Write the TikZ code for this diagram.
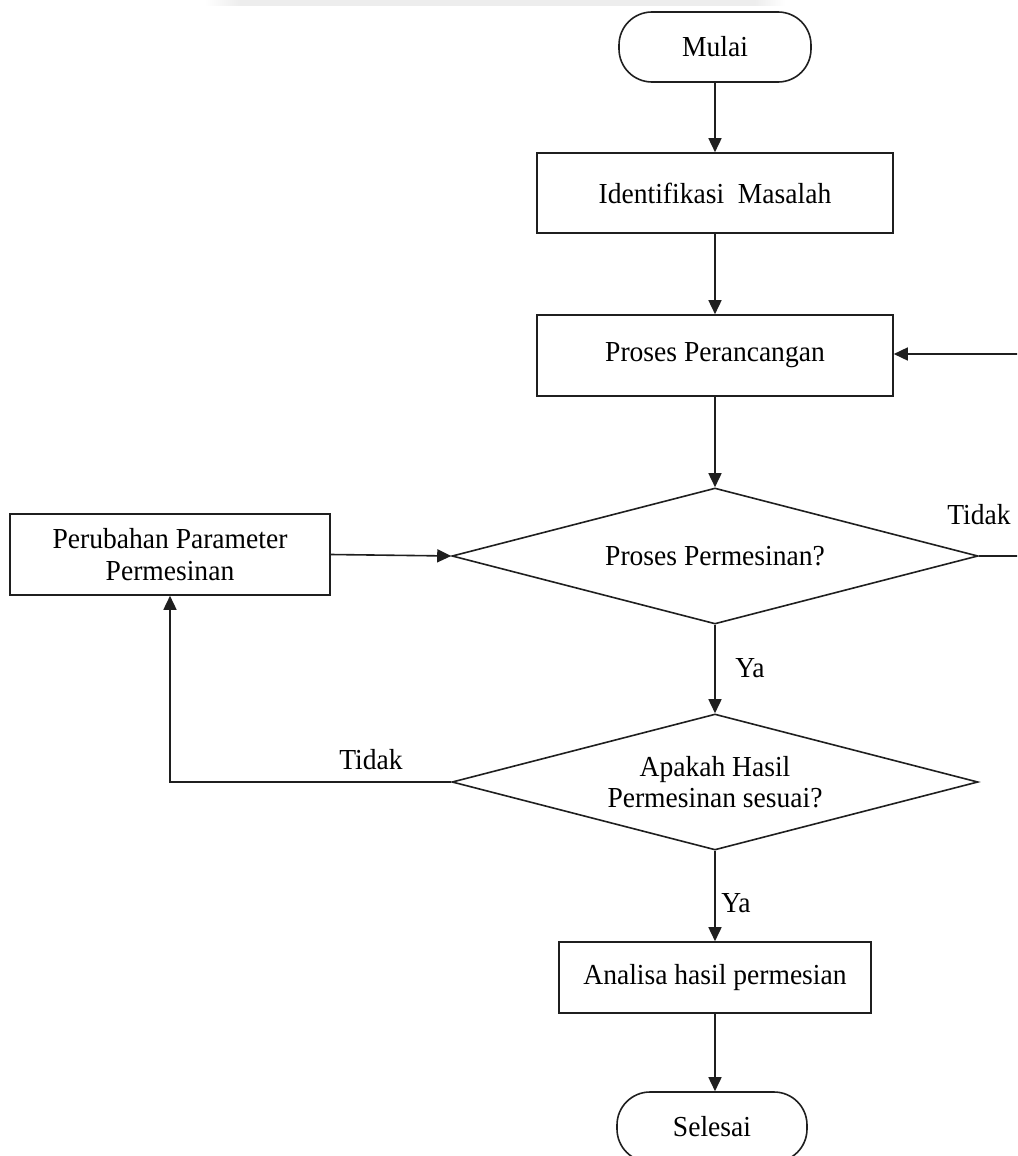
\documentclass[tikz,border=0pt]{standalone}
\usepackage{fontspec}
\setmainfont{Liberation Serif}[FakeStretch=0.95]
\usetikzlibrary{shapes.geometric,arrows.meta}
\begin{document}
\begin{tikzpicture}[x=1pt,y=-1pt,
  every node/.style={font=\fontsize{29}{33}\selectfont, text=black},
  line/.style={draw=black!88, line width=1.6pt},
  arr/.style={line, -{Triangle[length=14pt,width=13pt]}},
  term/.style={line, rectangle, rounded corners=33pt, minimum width=192pt, minimum height=70pt, inner sep=0pt},
  proc/.style={line, rectangle, inner sep=0pt, align=center},
  dec/.style={line, diamond, aspect=3.87, minimum width=526pt, minimum height=136pt, inner sep=0pt, align=center},
  lab/.style={inner sep=0pt}]
\useasboundingbox (0,0) rectangle (1017,1156);
\clip (0,0) rectangle (1017,1156);
\fill[white] (0,0) rectangle (1017,1156);
% faint band at the top
\shade[left color=white, right color=black!7] (205,0) rectangle (240,6);
\fill[black!7] (240,0) rectangle (755,6);
\shade[left color=black!7, right color=white] (755,0) rectangle (785,6);

\node[term] (mulai) at (715,47) {Mulai};
\node[proc, minimum width=356pt, minimum height=80pt] (ident) at (715,193) {Identifikasi \ Masalah};
\node[proc, minimum width=356pt, minimum height=81pt] (rancang) at (715,355.5) {Proses Perancangan};
\node[dec] (d1) at (715,556) {Proses Permesinan?};
\node[dec] (d2) at (715,782) {Apakah Hasil\\[-2pt]Permesinan sesuai?};
\node[proc, minimum width=320pt, minimum height=81pt] (perub) at (170,554.5) {Perubahan Parameter\\[-1pt]Permesinan};
\node[proc, minimum width=312pt, minimum height=71pt] (analisa) at (715,977.5) {Analisa hasil permesian};
\node[term, minimum width=190pt] (selesai) at (712,1127) {Selesai};

\coordinate (rt1) at (1025,556);
\coordinate (rt2) at (1025,354);
\coordinate (lt) at (170,782);

\draw[arr] (mulai) -- (ident);
\draw[arr] (ident) -- (rancang);
\draw[arr] (rancang) -- (d1);
\draw[arr] (d1) -- (d2);
\draw[arr] (d2) -- (analisa);
\draw[arr] (analisa.south) -- (analisa.south |- selesai.north);
\draw[arr] (perub.east) -- (d1.west);
\draw[arr] (d2.west) -- (lt) -- (perub.south);
\draw[line] (d1.east) -- (rt1) -- (rt2);
\draw[arr] (rt2) -- (rancang.east |- rt2);

\node[lab] (t1) at (979,515) {Tidak};
\node[lab] (t2) at (371,760) {Tidak};
\node[lab] (y1) at (750,668) {Ya};
\node[lab] (y2) at (736,903) {Ya};
\end{tikzpicture}
\end{document}
